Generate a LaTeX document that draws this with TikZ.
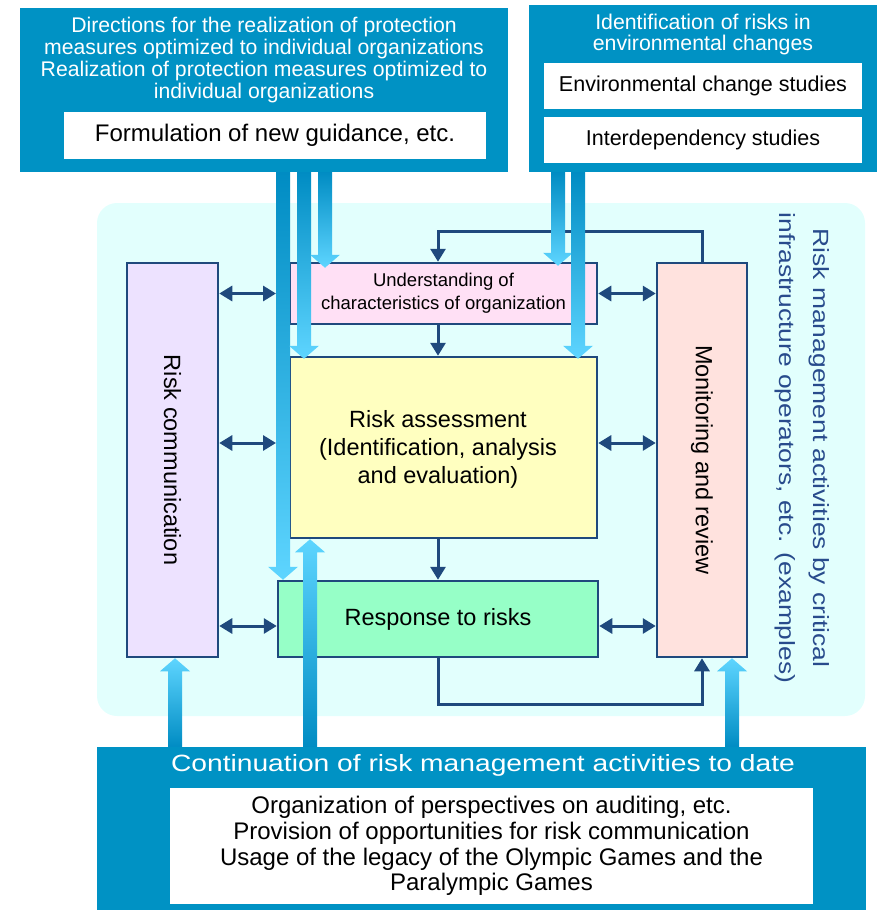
\documentclass[tikz,border=0pt]{standalone}
\usepackage{fontspec}
\setmainfont{Liberation Sans}
\newfontfamily\widefont[FakeStretch=1.2]{Liberation Sans}
\usetikzlibrary{arrows.meta,calc}
\definecolor{bluebox}{RGB}{0,146,196}
\definecolor{fdark}{RGB}{0,140,195}
\definecolor{flight}{RGB}{94,213,255}
\definecolor{bgcyan}{RGB}{226,255,253}
\definecolor{lineC}{RGB}{31,73,125}
\definecolor{rcFill}{RGB}{237,226,255}
\definecolor{undFill}{RGB}{255,224,245}
\definecolor{raFill}{RGB}{255,255,192}
\definecolor{respFill}{RGB}{150,255,199}
\definecolor{monFill}{RGB}{255,226,222}
\definecolor{txtblue}{RGB}{40,75,140}
\newcommand\fatdown[2]{%
 \shade[top color=fdark, bottom color=flight] let \p1=#1, \p2=#2 in
 (\x1-7pt,\y1) -- (\x1+7pt,\y1) -- (\x1+7pt,\y2+13pt) -- (\x1+15pt,\y2+13pt) -- (\x1,\y2) -- (\x1-15pt,\y2+13pt) -- (\x1-7pt,\y2+13pt) -- cycle;}
\newcommand\fatup[2]{%
 \shade[top color=flight, bottom color=fdark] let \p1=#1, \p2=#2 in
 (\x1-7pt,\y1) -- (\x1+7pt,\y1) -- (\x1+7pt,\y2-13pt) -- (\x1+15pt,\y2-13pt) -- (\x1,\y2) -- (\x1-15pt,\y2-13pt) -- (\x1-7pt,\y2-13pt) -- cycle;}
\tikzset{
 pbox/.style={draw=lineC, line width=2.5pt, inner sep=0pt, align=center, text=black},
 bbox/.style={fill=bluebox, inner sep=0pt},
 wbox/.style={fill=white, inner sep=0pt, align=center, text=black},
 conn/.style={draw=lineC, line width=3pt, -{Triangle[length=13pt,width=15pt]}},
 dbl/.style={draw=lineC, line width=3pt, {Triangle[length=13pt,width=15pt]}-{Triangle[length=13pt,width=15pt]}},
 wtext/.style={text=white, align=center, inner sep=0pt},
}
\begin{document}
\begin{tikzpicture}[x=1pt,y=-1pt]
\useasboundingbox (0,0) rectangle (878,910);
% background
\fill[bgcyan, rounded corners=20pt] (97,203) rectangle (865,716);
% boxes
\node[pbox, fill=rcFill, minimum width=91pt, minimum height=394pt] (rc) at (172.5,460) {};
\node[rotate=-90, font=\fontsize{23.5}{26}\selectfont] at (rc.center) {Risk communication};
\node[pbox, fill=undFill, minimum width=307pt, minimum height=61pt, font=\fontsize{18.5}{23}\selectfont] (und) at (443.5,293.5) {Understanding of\\characteristics of organization};
\node[pbox, fill=raFill, minimum width=307pt, minimum height=181pt] (ra) at (443.5,447.5) {};
\node[align=center, font=\fontsize{23.5}{28}\selectfont] at (438,449) {Risk assessment\\(Identification, analysis\\and evaluation)};
\node[pbox, fill=respFill, minimum width=320pt, minimum height=76pt, font=\fontsize{23.5}{28}\selectfont] (resp) at (438,619) {Response to risks};
\node[pbox, fill=monFill, minimum width=90pt, minimum height=394pt] (mon) at (702,460) {};
\node[rotate=-90, font=\fontsize{23.5}{26}\selectfont] at (mon.center) {Monitoring and review};
\node[rotate=-90, text=txtblue, align=center, font=\widefont\fontsize{22}{34}\selectfont] (rmlabel) at (802,448) {Risk management activities by critical\\infrastructure operators, etc. (examples)};
% coordinates
\coordinate (aA) at (283,0);
\coordinate (aB) at (304,0);
\coordinate (aC) at (325,0);
\coordinate (aD) at (558,0);
\coordinate (aE) at (578,0);
\coordinate (uL) at (175,0);
\coordinate (uM) at (310,0);
\coordinate (uR) at (732,0);
\coordinate (yRA) at (0,443);
\coordinate (yRS) at (0,626);
% connectors
\draw[conn] (mon.north) -- ++(0,-30) -| (und.north -| resp.north);
\draw[conn] (und.south -| resp.north) -- (ra.north -| resp.north);
\draw[conn] (ra.south -| resp.north) -- (resp.north);
\draw[conn] (resp.south) -- ++(0,46) -| (mon.south);
\draw[dbl] (rc.east |- und.west) -- ($(aA |- und.west)+(-7,0)$);
\draw[dbl] (rc.east |- yRA) -- ($(aA |- yRA)+(-7,0)$);
\draw[dbl] (rc.east |- yRS) -- (resp.west |- yRS);
\draw[dbl] (und.east) -- (mon.west |- und.east);
\draw[dbl] (ra.east |- yRA) -- (mon.west |- yRA);
\draw[dbl] (resp.east |- yRS) -- (mon.west |- yRS);
% top boxes
\node[bbox, minimum width=488pt, minimum height=164pt] (dirbox) at (264,90) {};
\node[wtext, font=\fontsize{21.2}{22}\selectfont] at (264,60) {Directions for the realization of protection\\measures optimized to individual organizations\\Realization of protection measures optimized to\\individual organizations};
\node[wbox, minimum width=422pt, minimum height=47pt, font=\fontsize{24}{26}\selectfont] (guid) at (275,135.5) {Formulation of new guidance, etc.};
\node[bbox, minimum width=348pt, minimum height=167pt] (envbox) at (703,88.5) {};
\node[wtext, font=\fontsize{21.3}{21.5}\selectfont] at (703,34.5) {Identification of risks in\\environmental changes};
\node[wbox, minimum width=318pt, minimum height=46pt, font=\fontsize{21.5}{24}\selectfont] (envst) at (703,86) {Environmental change studies};
\node[wbox, minimum width=318pt, minimum height=46pt, font=\fontsize{21.5}{24}\selectfont] (interst) at (703,140) {Interdependency studies};
% bottom box
\node[bbox, minimum width=769pt, minimum height=164pt] (contbox) at (481.5,829) {};
\node[wtext, font=\widefont\fontsize{23.5}{26}\selectfont] at (483,765) {Continuation of risk management activities to date};
\node[wbox, minimum width=643pt, minimum height=116pt, font=\fontsize{24}{25.6}\selectfont] (legacy) at (491.5,846) {Organization of perspectives on auditing, etc.\\Provision of opportunities for risk communication\\Usage of the legacy of the Olympic Games and the\\Paralympic Games};
% fat arrows
\fatdown{(dirbox.south -| aA)}{(resp.north -| aA)}
\fatdown{(dirbox.south -| aB)}{($(ra.north -| aB)+(0,3)$)}
\fatdown{(dirbox.south -| aC)}{($(und.north -| aC)+(0,6)$)}
\fatdown{(envbox.south -| aD)}{($(und.north -| aD)+(0,4)$)}
\fatdown{(envbox.south -| aE)}{($(ra.north -| aE)+(0,3)$)}
\fatup{(contbox.north -| uL)}{(rc.south -| uL)}
\fatup{(contbox.north -| uM)}{(ra.south -| uM)}
\fatup{(contbox.north -| uR)}{(mon.south -| uR)}
\end{tikzpicture}
\end{document}
